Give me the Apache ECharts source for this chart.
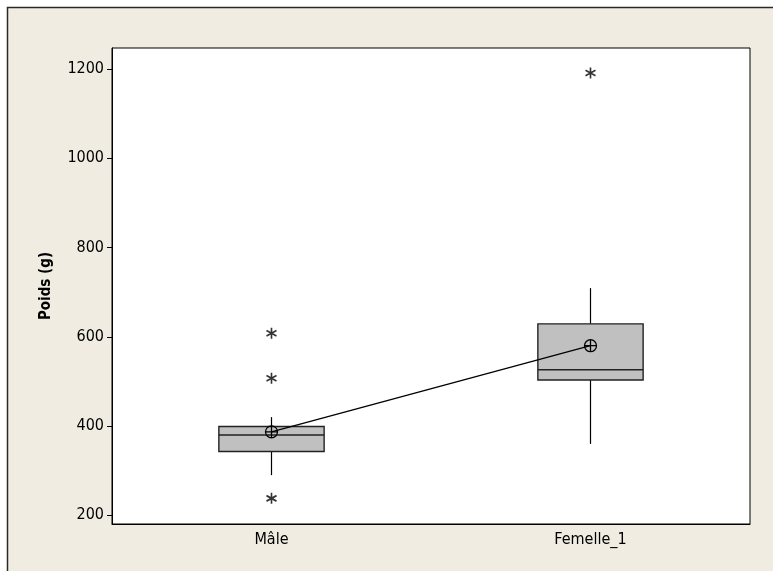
<!DOCTYPE html>
<html>
<head>
<meta charset="utf-8">
<style>html,body{margin:0;padding:0;background:#fff;}#c{width:773px;height:571px;}</style>
<script src="https://cdn.jsdelivr.net/npm/echarts@6/dist/echarts.min.js"></script>
</head>
<body>
<div id="c"></div>
<script>
var categories = ['Mâle', 'Femelle_1'];
var whiskerLow = [290, 360];
var q1 = [343, 503];
var median = [380, 526];
var q3 = [399, 629];
var whiskerHigh = [420, 709];
var means = [387, 580];
var outliersMale = [608, 507, 238];
var outliersFemelle = [1191];
var yTicks = [200, 400, 600, 800, 1000, 1200];

var FONT = '"DejaVu Sans Condensed", "DejaVu Sans", sans-serif';

var boxData = categories.map(function (c, i) {
  return [i, whiskerLow[i], q1[i], median[i], q3[i], whiskerHigh[i]];
});
var outlierData = [];
outliersMale.forEach(function (v) { outlierData.push([0, v]); });
outliersFemelle.forEach(function (v) { outlierData.push([1, v]); });

var asterisk = 'path://M0,-6L0,6M-5.2,-3L5.2,3M-5.2,3L5.2,-3';
var meanSym = 'path://M-6,0A6,6 0 1,0 6,0A6,6 0 1,0 -6,0ZM-6,0L6,0M0,-6L0,6';

var chart = echarts.init(document.getElementById('c'));
chart.setOption({
  backgroundColor: '#fff',
  animation: false,
  graphic: [{
    type: 'rect', z: -100, silent: true,
    shape: { x: 7.5, y: 7.5, width: 800, height: 600 },
    style: { fill: '#F0ECE2', stroke: '#2a2a2a', lineWidth: 1.5 }
  }],
  grid: {
    left: 112, top: 48, width: 638, height: 476,
    show: true, backgroundColor: '#fff', borderColor: '#000', borderWidth: 1
  },
  xAxis: {
    type: 'category', data: categories, boundaryGap: true,
    axisLine: { lineStyle: { color: '#000', width: 1 } },
    axisTick: { alignWithLabel: true, length: 5, lineStyle: { color: '#000' } },
    axisLabel: { color: '#000', fontFamily: FONT, fontSize: 16, margin: 8 },
    splitLine: { show: false }
  },
  yAxis: {
    type: 'value', min: 180.5, max: 1247,
    name: 'Poids (g)', nameLocation: 'middle', nameGap: 58,
    nameTextStyle: { color: '#000', fontFamily: FONT, fontSize: 15, fontWeight: 'bold' },
    axisLine: { show: true, lineStyle: { color: '#000', width: 1 } },
    axisTick: { show: true, length: 5, customValues: yTicks, lineStyle: { color: '#000' } },
    axisLabel: { color: '#000', fontFamily: FONT, fontSize: 16, margin: 8, customValues: yTicks,
      formatter: function (v) { return String(v); } },
    splitLine: { show: false }
  },
  series: [
    {
      type: 'custom',
      data: boxData,
      encode: { x: 0, y: [1, 2, 3, 4, 5] },
      z: 2,
      renderItem: function (params, api) {
        var i = api.value(0);
        var pLow = api.coord([i, api.value(1)]);
        var pQ1 = api.coord([i, api.value(2)]);
        var pMed = api.coord([i, api.value(3)]);
        var pQ3 = api.coord([i, api.value(4)]);
        var pHigh = api.coord([i, api.value(5)]);
        var bw = api.size([1, 0])[0] * 0.33;
        var x = pQ1[0];
        var ls = { stroke: '#000', lineWidth: 1.2 };
        return {
          type: 'group',
          children: [
            { type: 'line', shape: { x1: x, y1: pHigh[1], x2: x, y2: pQ3[1] }, style: ls },
            { type: 'line', shape: { x1: x, y1: pQ1[1], x2: x, y2: pLow[1] }, style: ls },
            { type: 'rect', shape: { x: x - bw / 2, y: pQ3[1], width: bw, height: pQ1[1] - pQ3[1] },
              style: { fill: '#C0C0C0', stroke: '#222', lineWidth: 1.4 } },
            { type: 'line', shape: { x1: x - bw / 2, y1: pMed[1], x2: x + bw / 2, y2: pMed[1] },
              style: { stroke: '#222', lineWidth: 1.4 } }
          ]
        };
      }
    },
    {
      type: 'line',
      data: means.map(function (v, i) { return [i, v]; }),
      z: 5,
      symbol: meanSym, symbolSize: 12, showAllSymbol: true,
      lineStyle: { color: '#000', width: 1.3 },
      itemStyle: { color: 'rgba(0,0,0,0)', borderColor: '#000', borderWidth: 1.3 }
    },
    {
      type: 'scatter',
      data: outlierData,
      z: 5,
      symbol: asterisk, symbolSize: [10, 11],
      itemStyle: { color: 'rgba(0,0,0,0)', borderColor: '#000', borderWidth: 1.7 }
    }
  ]
});
</script>
</body>
</html>
